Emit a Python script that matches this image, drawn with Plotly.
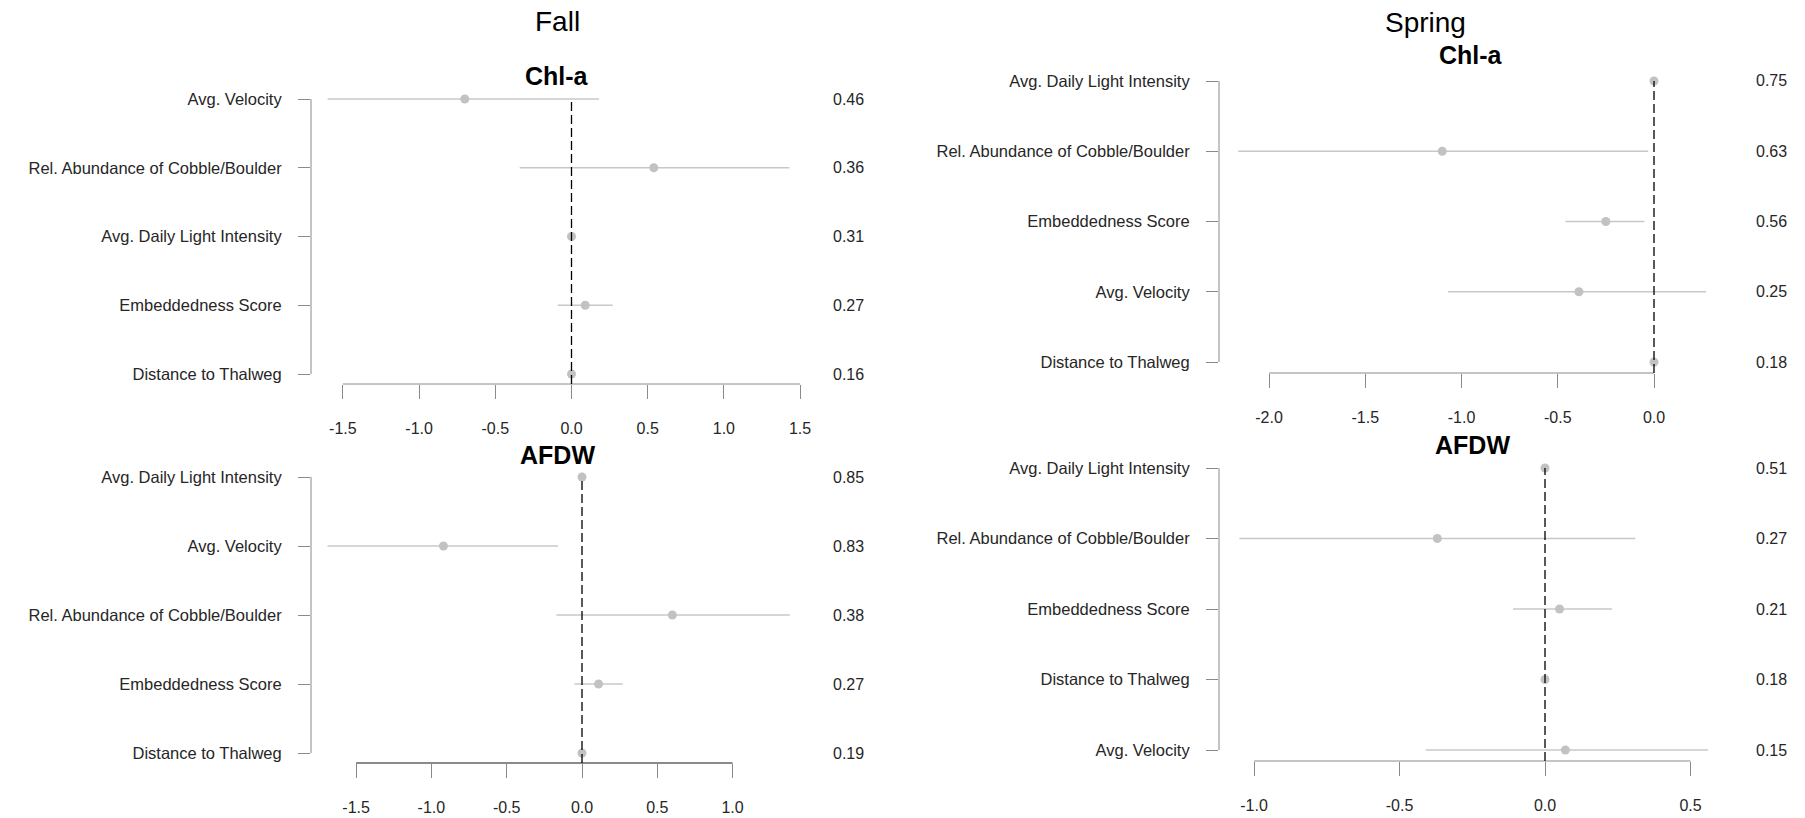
import plotly.graph_objects as go

# ---- data -------------------------------------------------------------
season_titles = ["Fall", "Spring"]
response_titles = ["Chl-a", "AFDW"]

fall_chla_vars = ["Avg. Velocity", "Rel. Abundance of Cobble/Boulder",
                  "Avg. Daily Light Intensity", "Embeddedness Score",
                  "Distance to Thalweg"]
fall_chla_est = [-0.70, 0.54, 0.00, 0.09, 0.00]
fall_chla_lo = [-1.60, -0.34, 0.00, -0.09, 0.00]
fall_chla_hi = [0.18, 1.43, 0.00, 0.27, 0.00]
fall_chla_imp = ["0.46", "0.36", "0.31", "0.27", "0.16"]
fall_chla_ticks = [-1.5, -1.0, -0.5, 0.0, 0.5, 1.0, 1.5]
fall_chla_ticktext = ["-1.5", "-1.0", "-0.5", "0.0", "0.5", "1.0", "1.5"]

fall_afdw_vars = ["Avg. Daily Light Intensity", "Avg. Velocity",
                  "Rel. Abundance of Cobble/Boulder", "Embeddedness Score",
                  "Distance to Thalweg"]
fall_afdw_est = [0.00, -0.92, 0.60, 0.11, 0.00]
fall_afdw_lo = [0.00, -1.69, -0.17, -0.05, 0.00]
fall_afdw_hi = [0.00, -0.16, 1.38, 0.27, 0.00]
fall_afdw_imp = ["0.85", "0.83", "0.38", "0.27", "0.19"]
fall_afdw_ticks = [-1.5, -1.0, -0.5, 0.0, 0.5, 1.0]
fall_afdw_ticktext = ["-1.5", "-1.0", "-0.5", "0.0", "0.5", "1.0"]

spring_chla_vars = ["Avg. Daily Light Intensity", "Rel. Abundance of Cobble/Boulder",
                    "Embeddedness Score", "Avg. Velocity", "Distance to Thalweg"]
spring_chla_est = [0.00, -1.10, -0.25, -0.39, 0.00]
spring_chla_lo = [0.00, -2.16, -0.46, -1.07, 0.00]
spring_chla_hi = [0.00, -0.03, -0.05, 0.27, 0.00]
spring_chla_imp = ["0.75", "0.63", "0.56", "0.25", "0.18"]
spring_chla_ticks = [-2.0, -1.5, -1.0, -0.5, 0.0]
spring_chla_ticktext = ["-2.0", "-1.5", "-1.0", "-0.5", "0.0"]

spring_afdw_vars = ["Avg. Daily Light Intensity", "Rel. Abundance of Cobble/Boulder",
                    "Embeddedness Score", "Distance to Thalweg", "Avg. Velocity"]
spring_afdw_est = [0.00, -0.37, 0.05, 0.00, 0.07]
spring_afdw_lo = [0.00, -1.05, -0.11, 0.00, -0.41]
spring_afdw_hi = [0.00, 0.31, 0.23, 0.00, 0.56]
spring_afdw_imp = ["0.51", "0.27", "0.21", "0.18", "0.15"]
spring_afdw_ticks = [-1.0, -0.5, 0.0, 0.5]
spring_afdw_ticktext = ["-1.0", "-0.5", "0.0", "0.5"]

# ---- page geometry (pixels) ------------------------------------------
W, H = 1805, 818
FONT = "Liberation Sans, Arial, sans-serif"
POINT_COLOR = "#c2c2c2"
BAR_COLOR = "#c8c8c8"
AXIS_COLOR = "#8a8a8a"
TEXT_COLOR = "#262626"

panels = [
    dict(vars=fall_chla_vars, est=fall_chla_est, lo=fall_chla_lo, hi=fall_chla_hi,
         imp=fall_chla_imp, ticks=fall_chla_ticks, ticktext=fall_chla_ticktext,
         zero=571.5, ppu=152.4, left=311, right=830,
         row_top=99, row_bot=374, axis_y=384, imp_x=848, axis_w=1),
    dict(vars=fall_afdw_vars, est=fall_afdw_est, lo=fall_afdw_lo, hi=fall_afdw_hi,
         imp=fall_afdw_imp, ticks=fall_afdw_ticks, ticktext=fall_afdw_ticktext,
         zero=582, ppu=150.6, left=311, right=830,
         row_top=477, row_bot=753, axis_y=763, imp_x=848, axis_w=2),
    dict(vars=spring_chla_vars, est=spring_chla_est, lo=spring_chla_lo, hi=spring_chla_hi,
         imp=spring_chla_imp, ticks=spring_chla_ticks, ticktext=spring_chla_ticktext,
         zero=1654, ppu=192.5, left=1219, right=1735,
         row_top=81, row_bot=362, axis_y=373, imp_x=1771, axis_w=1),
    dict(vars=spring_afdw_vars, est=spring_afdw_est, lo=spring_afdw_lo, hi=spring_afdw_hi,
         imp=spring_afdw_imp, ticks=spring_afdw_ticks, ticktext=spring_afdw_ticktext,
         zero=1545, ppu=291, left=1219, right=1735,
         row_top=468, row_bot=750, axis_y=761, imp_x=1771, axis_w=1),
]

fig = go.Figure()
layout = dict(width=W, height=H, margin=dict(l=0, r=0, t=0, b=0),
              paper_bgcolor="white", plot_bgcolor="white", showlegend=False,
              font=dict(family=FONT, color=TEXT_COLOR))
shapes, annotations = [], []

for i, p in enumerate(panels, start=1):
    sfx = "" if i == 1 else str(i)
    xname, yname = "x" + sfx, "y" + sfx
    n = len(p["vars"])
    rows = [n - k for k in range(n)]  # top row gets the largest value

    spacing = (p["row_bot"] - p["row_top"]) / (n - 1)

    def yval(px, p=p, spacing=spacing):
        return 1 + (p["row_bot"] - px) / spacing

    top_px = p["row_top"] - 12
    yrange = [yval(p["axis_y"]), yval(top_px)]
    xrange = [(p["left"] - p["zero"]) / p["ppu"], (p["right"] - p["zero"]) / p["ppu"]]

    layout["xaxis" + sfx] = dict(
        domain=[p["left"] / W, p["right"] / W], range=xrange, anchor=yname,
        tickvals=p["ticks"], ticktext=p["ticktext"], ticks="outside", ticklen=14,
        tickcolor=AXIS_COLOR, tickwidth=1, showline=False, showgrid=False,
        zeroline=False, tickfont=dict(size=16, color=TEXT_COLOR),
        ticklabelstandoff=16, fixedrange=True)
    layout["yaxis" + sfx] = dict(
        domain=[1 - p["axis_y"] / H, 1 - top_px / H], range=yrange, anchor=xname,
        tickvals=rows, ticktext=p["vars"], ticks="outside", ticklen=12,
        tickcolor=AXIS_COLOR, tickwidth=1, showline=False, showgrid=False,
        zeroline=False, tickfont=dict(size=16.5, color=TEXT_COLOR),
        ticklabelstandoff=13, fixedrange=True)

    fig.add_trace(go.Scatter(
        x=p["est"], y=rows, xaxis=xname, yaxis=yname, mode="markers",
        marker=dict(size=9, color=POINT_COLOR),
        error_x=dict(type="data", symmetric=False,
                     array=[h - e for h, e in zip(p["hi"], p["est"])],
                     arrayminus=[e - l for e, l in zip(p["est"], p["lo"])],
                     color=BAR_COLOR, thickness=1.5, width=0),
        cliponaxis=False, hoverinfo="skip"))

    # y axis line spanning first to last category
    shapes.append(dict(type="line", xref=xname + " domain", yref=yname,
                       x0=0, x1=0, y0=1, y1=n,
                       line=dict(color=AXIS_COLOR, width=1)))
    # x axis line spanning first to last tick
    shapes.append(dict(type="line", xref=xname, yref=yname + " domain",
                       x0=p["ticks"][0], x1=p["ticks"][-1], y0=0, y1=0,
                       line=dict(color=AXIS_COLOR, width=p["axis_w"])))
    # reference line at zero
    shapes.append(dict(type="line", xref=xname, yref=yname,
                       x0=0, x1=0, y0=yrange[0], y1=n,
                       line=dict(color="black", width=1.3, dash="9px,4px")))

    # importance values to the right of each row
    for r, txt in zip(rows, p["imp"]):
        annotations.append(dict(xref="paper", yref=yname, x=p["imp_x"] / W, y=r,
                                text=txt, showarrow=False, xanchor="center",
                                yanchor="middle", font=dict(size=16, color=TEXT_COLOR)))

# season headings and response headings
title_pos = [(557, 22, season_titles[0], 28, False),
             (1425, 23, season_titles[1], 28, False),
             (557, 76, response_titles[0], 25, True),
             (1471, 55, response_titles[0], 25, True),
             (557, 455, response_titles[1], 25, True),
             (1472, 445, response_titles[1], 25, True)]
for x, y, txt, size, bold in title_pos:
    annotations.append(dict(xref="paper", yref="paper", x=x / W, y=1 - y / H,
                            text=f"<b>{txt}</b>" if bold else txt, showarrow=False,
                            xanchor="center", yanchor="middle",
                            font=dict(size=size, color="black")))

layout["shapes"] = shapes
layout["annotations"] = annotations
fig.update_layout(**layout)

fig.write_html("out.html", config={"displayModeBar": False})
